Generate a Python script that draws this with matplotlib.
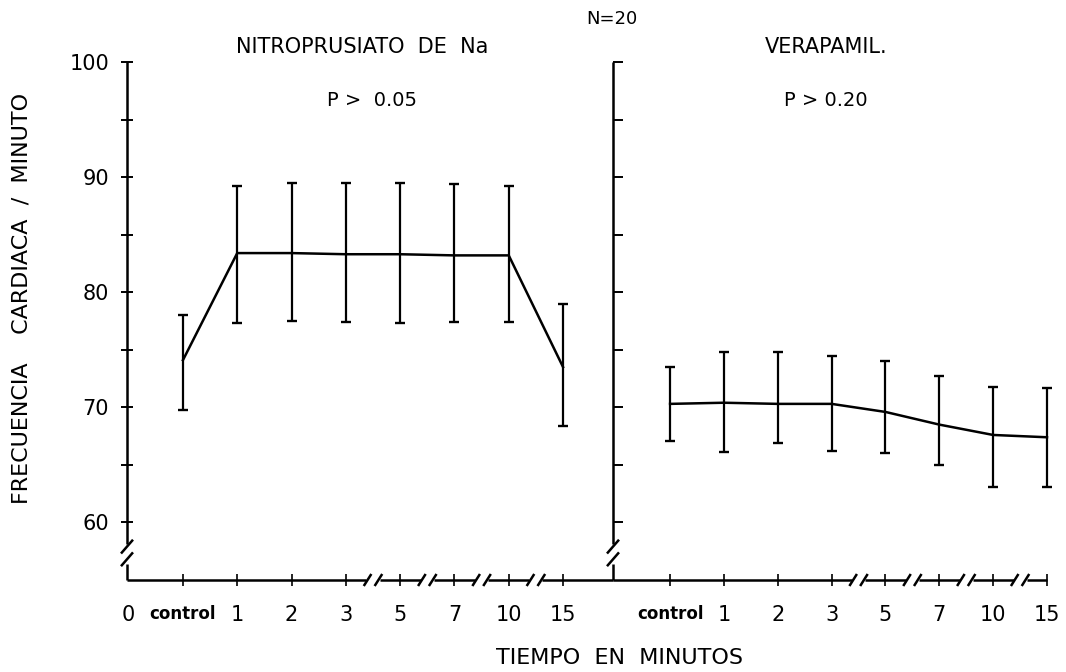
import matplotlib
matplotlib.use("Agg")
import matplotlib.pyplot as plt

plt.rcParams['font.family'] = ['DejaVu Sans']

# datos (frecuencia cardiaca, media y limites de la barra)
tiempos = ['control', '1', '2', '3', '5', '7', '10', '15']
nitro_media = [74.1, 83.4, 83.4, 83.3, 83.3, 83.2, 83.2, 73.5]
nitro_sup = [78.0, 89.2, 89.5, 89.5, 89.5, 89.4, 89.2, 79.0]
nitro_inf = [69.8, 77.3, 77.5, 77.4, 77.3, 77.4, 77.4, 68.4]
vera_media = [70.3, 70.4, 70.3, 70.3, 69.6, 68.5, 67.6, 67.4]
vera_sup = [73.5, 74.8, 74.8, 74.5, 74.0, 72.7, 71.8, 71.7]
vera_inf = [67.1, 66.1, 66.9, 66.2, 66.0, 65.0, 63.1, 63.1]
y_mayor = [60, 70, 80, 90, 100]
y_menor = [65, 75, 85, 95]

W, H = 1066, 672
fig = plt.figure(figsize=(W / 100, H / 100), dpi=100)

y_bot, y_top = 580, 62
ax1 = fig.add_axes([127 / W, (H - y_bot) / H, (613 - 127) / W, (y_bot - y_top) / H])
ax2 = fig.add_axes([613 / W, (H - y_bot) / H, (1047 - 613) / W, (y_bot - y_top) / H])
ax1.set_xlim(-0.03, 8.92)
ax2.set_xlim(-0.06, 8.0)
for ax in (ax1, ax2):
    ax.set_ylim(55, 100)
    for s in ax.spines.values():
        s.set_visible(False)
    ax.patch.set_alpha(0)

pos = list(range(1, len(tiempos) + 1))
lw = 1.8


def ejes(ax):
    ty = ax.get_yaxis_transform()   # x en ejes, y en datos
    tx = ax.get_xaxis_transform()   # x en datos, y en ejes
    kw = dict(color='k', lw=lw, clip_on=False, solid_capstyle='butt')
    # eje vertical con corte
    ax.plot([0, 0], [100, 58.1], transform=ty, **kw)
    ax.plot([0, 0], [56.4, 55], transform=ty, **kw)
    dx = 6 / (ax.get_position().width * W)
    ax.plot([-dx, dx], [57.3, 58.5], transform=ty, **kw)
    ax.plot([-dx, dx], [56.2, 57.4], transform=ty, **kw)
    # eje horizontal con cortes entre 3-5, 5-7, 7-10, 10-15
    x0, x1 = ax.get_xlim()
    cortes = [4.5, 5.5, 6.5, 7.5]
    segs = [x0] + [c for m in cortes for c in (m - 0.12, m + 0.12)] + [x1]
    for a, b in zip(segs[::2], segs[1::2]):
        ax.plot([a, b], [0, 0], transform=tx, **kw)
    dy = 6 / (y_bot - y_top)
    for m in cortes:
        for off in (-0.1, 0.1):
            ax.plot([m + off - 0.07, m + off + 0.07], [-dy, dy], transform=tx, **kw)


ejes(ax1)
ejes(ax2)

ek = dict(color='k', lw=lw, elinewidth=1.6, capsize=3.8, capthick=1.7)
c1 = ax1.errorbar(pos, nitro_media,
                  yerr=[[m - l for m, l in zip(nitro_media, nitro_inf)],
                        [s - m for m, s in zip(nitro_media, nitro_sup)]], **ek)
c2 = ax2.errorbar(pos, vera_media,
                  yerr=[[m - l for m, l in zip(vera_media, vera_inf)],
                        [s - m for m, s in zip(vera_media, vera_sup)]], **ek)
for c in (c1, c2):
    for a in c.get_children():
        a.set_clip_on(False)

# ticks
ax1.set_yticks(y_mayor)
ax1.set_yticks(y_menor, minor=True)
ax1.tick_params(axis='y', which='both', direction='inout', length=8, width=1.4,
                labelsize=15, pad=9)
ax2.set_yticks(y_mayor + y_menor)
ax2.tick_params(axis='y', which='both', direction='in', length=7, width=1.4,
                labelleft=False)

for ax in (ax1, ax2):
    ax.set_xticks(pos, labels=tiempos)
    ax.tick_params(axis='x', which='major', direction='inout', length=8,
                   width=1.2, labelsize=15, pad=14)
    for t in ax.get_xticklabels():
        if t.get_text() == 'control':
            t.set_fontsize(12)
            t.set_fontweight('bold')
ax1.set_xticks([0], labels=['0'], minor=True)
ax1.tick_params(axis='x', which='minor', length=0, labelsize=15, pad=18)

# textos
fig.text(362 / W, 1 - 47 / H, 'NITROPRUSIATO  DE  Na', ha='center', va='center', fontsize=15)
fig.text(372 / W, 1 - 100 / H, 'P >  0.05', ha='center', va='center', fontsize=14)
fig.text(826 / W, 1 - 47 / H, 'VERAPAMIL.', ha='center', va='center', fontsize=15)
fig.text(826 / W, 1 - 100 / H, 'P > 0.20', ha='center', va='center', fontsize=14)
fig.text(612 / W, 1 - 19 / H, 'N=20', ha='center', va='center', fontsize=13)
fig.text(619 / W, 1 - 658 / H, 'TIEMPO  EN  MINUTOS', ha='center', va='center', fontsize=16)
fig.text(22 / W, 1 - 298 / H, 'FRECUENCIA    CARDIACA  /  MINUTO', ha='center', va='center',
         rotation=90, fontsize=16)

fig.savefig('out.png', dpi=100)
